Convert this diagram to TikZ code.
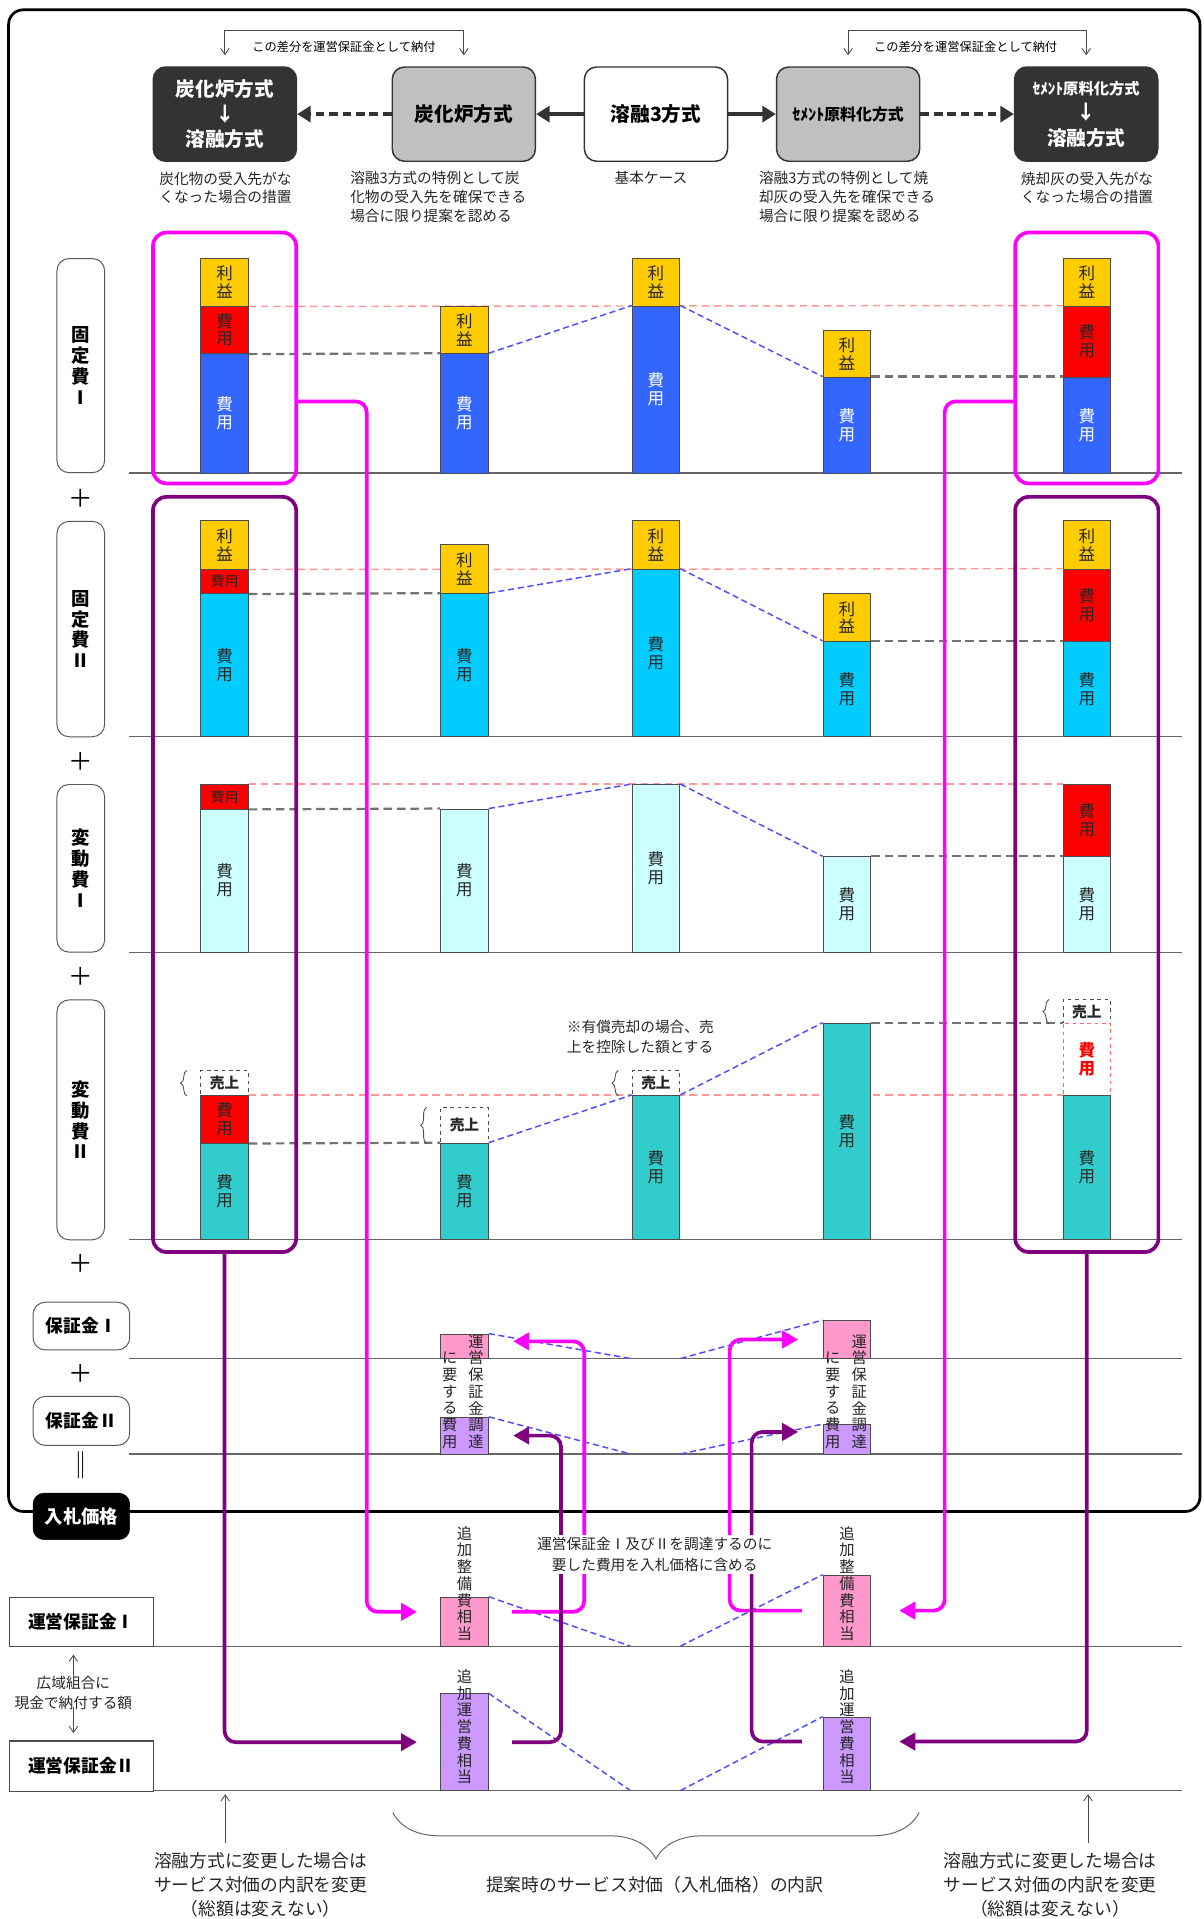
\documentclass[tikz,border=0pt]{standalone}
\usepackage{fontspec}
\setmainfont{Noto Sans CJK JP}
\usetikzlibrary{arrows.meta,decorations.pathreplacing}
\pgfdeclarelayer{back}
\pgfsetlayers{back,main}
\definecolor{cYel}{HTML}{FFCC00}
\definecolor{cRed}{HTML}{FF0000}
\definecolor{cBlue}{HTML}{3366FF}
\definecolor{cCyan}{HTML}{00CCFF}
\definecolor{cLCyan}{HTML}{CCFFFF}
\definecolor{cTeal}{HTML}{33CCCC}
\definecolor{cPink}{HTML}{FF99CC}
\definecolor{cLav}{HTML}{CC99FF}
\definecolor{cMag}{HTML}{FF00FF}
\definecolor{cPur}{HTML}{800080}
\definecolor{cDark}{HTML}{333333}
\definecolor{cGrayBox}{HTML}{C0C0C0}
\definecolor{cPinkLine}{HTML}{FF9999}
\definecolor{cBlueLine}{HTML}{4D4DFF}
\newcommand\fs[2]{\fontsize{#1}{#2}\selectfont}
\newcommand\seg[7][]{\node[segbox,fill=#6,minimum height={#5-#4},#1] (#2) at (#3,{(#4+#5)/2}) {#7};}
\begin{document}
\begin{tikzpicture}[x=1pt,y=-1pt,
  segbox/.style={draw=black!70, line width=0.7pt, inner sep=0pt, minimum width=39pt, align=center, text=black!85, font=\fs{13.5}{14.5}},
  topbox/.style={draw=black!80, line width=1.2pt, rounded corners=10pt, minimum width=117pt, minimum height=77pt, inner sep=0pt, align=center},
  captxt/.style={font=\fs{12}{15.5}, inner sep=0pt, align=left, anchor=north west, text=black!85},
  rowlab/.style={draw=black!65, line width=0.8pt, rounded corners=10pt, minimum width=39pt, inner sep=0pt, align=center, font=\bfseries\fs{15}{17}},
  plussign/.style={font=\fs{20}{20}, inner sep=0pt},
  baseln/.style={draw=black!60, line width=0.9pt},
  pdash/.style={draw=cPinkLine, line width=1.2pt, dash pattern=on 6pt off 4pt},
  gdash/.style={draw=black!55, line width=1.8pt, dash pattern=on 7pt off 4pt},
  bdash/.style={draw=cBlueLine, line width=1.2pt, dash pattern=on 5pt off 3pt},
  magframe/.style={draw=cMag, line width=3pt, rounded corners=11pt, inner sep=0pt, minimum width=117pt},
  purframe/.style={draw=cPur, line width=3pt, rounded corners=11pt, inner sep=0pt, minimum width=117pt},
  magA/.style={draw=cMag, line width=3pt, rounded corners=9pt, -{Triangle[length=13pt,width=14pt]}},
  purA/.style={draw=cPur, line width=3pt, rounded corners=9pt, -{Triangle[length=13pt,width=14pt]}},
  topA/.style={draw=cDark, line width=3pt, -{Triangle[length=11pt,width=13pt]}},
  thinA/.style={draw=black!70, line width=0.7pt, -{Straight Barb[length=5pt,width=7pt]}},
  brkt/.style={draw=black!70, line width=0.7pt, {Straight Barb[length=5pt,width=7pt]}-{Straight Barb[length=5pt,width=7pt]}},
  vtext/.style={inner sep=0pt, align=center, font=\fs{12.5}{13.7}, text=black!85},
  brc/.style={draw=black!70, line width=0.7pt, decorate, decoration={brace, amplitude=5pt}},
  bigbrace/.style={draw=black!60, line width=0.8pt, decorate, decoration={brace, amplitude=38pt}},
  uribox/.style={dashed, draw=black!70, font=\bfseries\fs{12}{12}}
]
\useasboundingbox (0,0) rectangle (983,1568);

% ---------------- top boxes ----------------
\node[topbox, fill=cDark, text=white, font=\bfseries\fs{16}{20.7}] (bA) at (183.75,93.25) {炭化炉方式\\↓\\溶融方式};
\node[topbox, fill=cGrayBox, font=\bfseries\fs{16}{18}] (bB) at (379,93.25) {炭化炉方式};
\node[topbox, fill=white, font=\bfseries\fs{16}{18}] (bC) at (536,93.25) {溶融3方式};
\node[topbox, fill=cGrayBox, font=\bfseries\fs{13}{16}] (bD) at (693,93.25) {ｾﾒﾝﾄ原料化方式};
\node[topbox, fill=cDark, text=white, font=\bfseries\fs{16}{20.7}] (bE) at (887.5,93.25) {{\fs{12.5}{20.7}ｾﾒﾝﾄ原料化方式}\\↓\\溶融方式};

\draw[topA] (bC.west) -- (bB.east);
\draw[topA, dash pattern=on 7pt off 4pt] (bB.west) -- (bA.east);
\draw[topA] (bC.east) -- (bD.west);
\draw[topA, dash pattern=on 7pt off 4pt] (bD.east) -- (bE.west);

\draw[brkt] ([yshift=9pt]bA.north) -- ++(0,-20) -| ([yshift=9pt]bB.north);
\draw[brkt] ([yshift=9pt]bD.north) -- ++(0,-20) -| ([yshift=9pt]bE.north);
\node[font=\fs{10}{12}, inner sep=0pt] (nt1) at (281,38) {この差分を運営保証金として納付};
\node[font=\fs{10}{12}, inner sep=0pt] (nt2) at (789,38) {この差分を運営保証金として納付};

\node[captxt] (capA) at (130,140) {炭化物の受入先がな\\くなった場合の措置};
\node[captxt] (capB) at (286,140) {溶融3方式の特例として炭\\化物の受入先を確保できる\\場合に限り提案を認める};
\node[captxt] (capC) at (502,140) {基本ケース};
\node[captxt] (capD) at (620,140) {溶融3方式の特例として焼\\却灰の受入先を確保できる\\場合に限り提案を認める};
\node[captxt] (capE) at (834,140) {焼却灰の受入先がな\\くなった場合の措置};

% ---------------- row labels ----------------
\node[rowlab, minimum height=175pt] (L1) at (66,298.75) {固\\定\\費\\Ⅰ};
\node[rowlab, minimum height=176pt] (L2) at (66,514) {固\\定\\費\\Ⅱ};
\node[rowlab, minimum height=137pt] (L3) at (66,709.5) {変\\動\\費\\Ⅰ};
\node[rowlab, minimum height=196pt] (L4) at (66,915) {変\\動\\費\\Ⅱ};
\node[plussign] (p1) at (66,407) {＋};
\node[plussign] (p2) at (66,622) {＋};
\node[plussign] (p3) at (66,797.5) {＋};
\node[plussign] (p4) at (66,1032) {＋};
\node[rowlab, minimum width=79pt, minimum height=39pt, font=\bfseries\fs{14.5}{16}] (h1) at (66.5,1083.5) {保証金Ⅰ};
\node[plussign] (p5) at (66,1122) {＋};
\node[rowlab, minimum width=79pt, minimum height=40pt, font=\bfseries\fs{14.5}{16}] (h2) at (66.5,1161) {保証金Ⅱ};
\node[font=\fs{22}{22}, inner sep=0pt] (eq) at (66,1197) {‖};

% ---------------- bars ----------------
% row 1
\seg{r1c1a}{183.5}{211}{250}{cYel}{利\\益}
\seg{r1c1b}{183.5}{250}{289}{cRed}{費\\用}
\seg[text=white]{r1c1c}{183.5}{289}{386.5}{cBlue}{費\\用}
\seg{r1c2a}{379.5}{250}{289}{cYel}{利\\益}
\seg[text=white]{r1c2b}{379.5}{289}{386.5}{cBlue}{費\\用}
\seg{r1c3a}{536}{211}{250}{cYel}{利\\益}
\seg[text=white]{r1c3b}{536}{250}{386.5}{cBlue}{費\\用}
\seg{r1c4a}{692}{270}{308}{cYel}{利\\益}
\seg[text=white]{r1c4b}{692}{308}{386.5}{cBlue}{費\\用}
\seg{r1c5a}{888}{211}{250}{cYel}{利\\益}
\seg{r1c5b}{888}{250}{308}{cRed}{費\\用}
\seg[text=white]{r1c5c}{888}{308}{386.5}{cBlue}{費\\用}
% row 2
\seg{r2c1a}{183.5}{425.5}{465}{cYel}{利\\益}
\seg[font=\fs{11.5}{11.5}]{r2c1b}{183.5}{465}{485}{cRed}{費用}
\seg{r2c1c}{183.5}{485}{602}{cCyan}{費\\用}
\seg{r2c2a}{379.5}{445}{485}{cYel}{利\\益}
\seg{r2c2b}{379.5}{485}{602}{cCyan}{費\\用}
\seg{r2c3a}{536}{425.5}{465}{cYel}{利\\益}
\seg{r2c3b}{536}{465}{602}{cCyan}{費\\用}
\seg{r2c4a}{692}{485}{524}{cYel}{利\\益}
\seg{r2c4b}{692}{524}{602}{cCyan}{費\\用}
\seg{r2c5a}{888}{425.5}{465}{cYel}{利\\益}
\seg{r2c5b}{888}{465}{524}{cRed}{費\\用}
\seg{r2c5c}{888}{524}{602}{cCyan}{費\\用}
% row 3
\seg[font=\fs{11.5}{11.5}]{r3c1a}{183.5}{641}{661}{cRed}{費用}
\seg{r3c1b}{183.5}{661}{778}{cLCyan}{費\\用}
\seg{r3c2a}{379.5}{661}{778}{cLCyan}{費\\用}
\seg{r3c3a}{536}{641}{778}{cLCyan}{費\\用}
\seg{r3c4a}{692}{700}{778}{cLCyan}{費\\用}
\seg{r3c5a}{888}{641}{700}{cRed}{費\\用}
\seg{r3c5b}{888}{700}{778}{cLCyan}{費\\用}
% row 4
\seg[uribox]{u4c1}{183.5}{875}{895}{white}{売上}
\seg{r4c1a}{183.5}{895}{934}{cRed}{費\\用}
\seg{r4c1b}{183.5}{934}{1012.5}{cTeal}{費\\用}
\seg[uribox]{u4c2}{379.5}{905}{934}{white}{売上}
\seg{r4c2b}{379.5}{934}{1012.5}{cTeal}{費\\用}
\seg[uribox]{u4c3}{536}{875}{895}{white}{売上}
\seg{r4c3b}{536}{895}{1012.5}{cTeal}{費\\用}
\seg{r4c4a}{692}{836}{1012.5}{cTeal}{費\\用}
\seg[uribox]{u4c5}{888}{817}{836}{white}{売上}
\seg[dashed, draw=red!60, text=red, font=\bfseries\fs{13.5}{14.5}]{r4c5b}{888}{836}{895}{white}{費\\用}
\seg{r4c5c}{888}{895}{1012.5}{cTeal}{費\\用}
\draw[brc] ([xshift=-11pt]u4c1.south west) -- ([xshift=-11pt]u4c1.north west);
\draw[brc] ([xshift=-11pt]u4c2.south west) -- ([xshift=-11pt]u4c2.north west);
\draw[brc] ([xshift=-11pt]u4c3.south west) -- ([xshift=-11pt]u4c3.north west);
\draw[brc] ([xshift=-11pt]u4c5.south west) -- ([xshift=-11pt]u4c5.north west);
\node[captxt, font=\fs{12}{16.5}] (note4) at (463,833) {※有償売却の場合、売\\上を控除した額とする};

% guarantee cost boxes
\seg{g1a}{379.5}{1090}{1110}{cPink}{}
\seg{g2a}{379.5}{1158}{1188}{cLav}{}
\seg{g1b}{692}{1079}{1110}{cPink}{}
\seg{g2b}{692}{1164}{1188}{cLav}{}
\seg{u1a}{379.5}{1305}{1345}{cPink}{}
\seg{u2a}{379.5}{1384}{1463}{cLav}{}
\seg{u1b}{692}{1287}{1345}{cPink}{}
\seg{u2b}{692}{1403}{1463}{cLav}{}
\node[vtext, anchor=south] (gt1a) at (389,1184) {運\\営\\保\\証\\金\\調\\達};
\node[vtext, anchor=south] (gt2a) at (367.5,1184) {に\\要\\す\\る\\費\\用};
\node[vtext, anchor=south] (gt1b) at (702,1184) {運\\営\\保\\証\\金\\調\\達};
\node[vtext, anchor=south] (gt2b) at (680.5,1184) {に\\要\\す\\る\\費\\用};
\node[vtext, anchor=south] (ut1a) at (379.5,1341) {追\\加\\整\\備\\費\\相\\当};
\node[vtext, anchor=south] (ut1b) at (692,1341) {追\\加\\整\\備\\費\\相\\当};
\node[vtext, anchor=south] (ut2a) at (379.5,1458) {追\\加\\運\\営\\費\\相\\当};
\node[vtext, anchor=south] (ut2b) at (692,1458) {追\\加\\運\\営\\費\\相\\当};

% ---------------- bottom left ----------------
\node[draw=black, fill=black, text=white, rounded corners=9pt, minimum width=79pt, minimum height=38pt, inner sep=0pt, font=\bfseries\fs{15}{16}] (bid) at (66.5,1239) {入札価格};
\node[draw=black!70, line width=0.9pt, fill=white, minimum width=118pt, minimum height=40pt, inner sep=0pt, font=\bfseries\fs{14.5}{16}] (ub1) at (66.5,1325.5) {運営保証金Ⅰ};
\node[draw=black!70, line width=0.9pt, fill=white, minimum width=118pt, minimum height=41pt, inner sep=0pt, font=\bfseries\fs{14.5}{16}] (ub2) at (66.5,1443) {運営保証金Ⅱ};
\node[font=\fs{12}{16.5}, align=center, inner sep=0pt, text=black!85] (cash) at (60,1383.5) {広域組合に\\現金で納付する額};
\draw[thinA] ([yshift=-3pt]cash.north) -- ([yshift=-6pt]cash.north |- ub1.south);
\draw[thinA] ([yshift=3pt]cash.south) -- ([yshift=6pt]cash.south |- ub2.north);

% bottom notes
\node[font=\fs{14.5}{19.5}, align=center, inner sep=0pt, text=black!85] (bt1) at (213,1540) {溶融方式に変更した場合は\\サービス対価の内訳を変更\\（総額は変えない）};
\node[font=\fs{14.5}{19.5}, align=center, inner sep=0pt, text=black!85] (bt2) at (858,1540) {溶融方式に変更した場合は\\サービス対価の内訳を変更\\（総額は変えない）};
\node[font=\fs{14.5}{19.5}, inner sep=0pt, text=black!85] (bt3) at (535,1540) {提案時のサービス対価（入札価格）の内訳};
\coordinate (ar1) at (184,1466);
\coordinate (ar2) at (889,1466);
\draw[thinA] (ar1 |- bt1.north) ++(0,-8) -- (ar1);
\draw[thinA] (ar2 |- bt2.north) ++(0,-8) -- (ar2);
\coordinate (brR) at (751,1481);
\coordinate (brL) at (321,1481);
\draw[bigbrace] (brR) -- (brL);

% ---------------- background layer ----------------
\begin{pgfonlayer}{back}
\fill[white] (0,0) rectangle (983,1568);
\draw[line width=2.2pt, rounded corners=12pt] (7,8) rectangle (980.5,1235);
\foreach \yy in {386.5,602,778,1012.5,1110,1188,1345,1463}
  \draw[baseln] (105,\yy) -- (966,\yy);
% row 1
\draw[pdash] (r1c1a.south east) -- (r1c5b.north west);
\draw[gdash] (r1c1b.south east) -- (r1c2b.north west);
\draw[gdash] (r1c4b.north east) -- (r1c5c.north west);
\draw[bdash] (r1c2b.north east) -- (r1c3b.north west);
\draw[bdash] (r1c3b.north east) -- (r1c4b.north west);
% row 2
\draw[pdash] (r2c1a.south east) -- (r2c5b.north west);
\draw[gdash] (r2c1b.south east) -- (r2c2b.north west);
\draw[gdash] (r2c4b.north east) -- (r2c5c.north west);
\draw[bdash] (r2c2b.north east) -- (r2c3b.north west);
\draw[bdash] (r2c3b.north east) -- (r2c4b.north west);
% row 3
\draw[pdash] (r3c1a.north east) -- (r3c5a.north west);
\draw[gdash] (r3c1a.south east) -- (r3c2a.north west);
\draw[gdash] (r3c4a.north east) -- (r3c5b.north west);
\draw[bdash] (r3c2a.north east) -- (r3c3a.north west);
\draw[bdash] (r3c3a.north east) -- (r3c4a.north west);
% row 4
\draw[pdash] (r4c1a.north east) -- (r4c5c.north west);
\draw[gdash] (r4c1a.south east) -- (r4c2b.north west);
\draw[gdash] (r4c4a.north east) -- (r4c5b.north west);
\draw[bdash] (r4c2b.north east) -- (r4c3b.north west);
\draw[bdash] (r4c3b.north east) -- (r4c4a.north west);
% lower V-shaped dashes
\coordinate (v1a) at (515,1110); \coordinate (v1b) at (556,1110);
\coordinate (v2a) at (515,1188); \coordinate (v2b) at (556,1188);
\coordinate (v3a) at (515,1345); \coordinate (v3b) at (556,1345);
\coordinate (v4a) at (515,1463); \coordinate (v4b) at (556,1463);
\draw[bdash] (g1a.north east) -- (v1a); \draw[bdash] (v1b) -- (g1b.north west);
\draw[bdash] (g2a.north east) -- (v2a); \draw[bdash] (v2b) -- (g2b.north west);
\draw[bdash] (u1a.north east) -- (v3a); \draw[bdash] (v3b) -- (u1b.north west);
\draw[bdash] (u2a.north east) -- (v4a); \draw[bdash] (v4b) -- (u2b.north west);
\end{pgfonlayer}

% ---------------- frames and connectors ----------------
\node[magframe, minimum height=205pt] (pinkL) at (183.5,292.5) {};
\node[magframe, minimum height=205pt] (pinkR) at (888,292.5) {};
\node[purframe, minimum height=617pt] (purL) at (183.5,714.5) {};
\node[purframe, minimum height=617pt] (purR) at (888,714.5) {};

\draw[magA] ([yshift=-35.5pt]pinkL.east) -| ([xshift=-60pt,yshift=8pt]u1a.west) -- ([xshift=-19pt,yshift=8pt]u1a.west);
\draw[magA] ([yshift=-35.5pt]pinkR.west) -| ([xshift=60pt]u1b.east) -- ([xshift=23pt]u1b.east);
\draw[purA] (purL.south) |- ([xshift=-19pt]u2a.west);
\draw[purA] (purR.south) |- ([xshift=23pt,yshift=10pt]u2b.east);

\draw[magA] ([xshift=19pt,yshift=8pt]u1a.east) -| ([xshift=78pt,yshift=4pt]g1a.east) -- ([xshift=20pt,yshift=4pt]g1a.east);
\draw[purA] ([xshift=19pt]u2a.east) -| ([xshift=59pt]g2a.east) -- ([xshift=20pt]g2a.east);
\draw[magA] ([xshift=-17pt]u1b.west) -| ([xshift=-76pt]g1b.west) -- ([xshift=-20pt]g1b.west);
\draw[purA] ([xshift=-17pt,yshift=10pt]u2b.west) -| ([xshift=-58pt,yshift=6pt]g2b.west) -- ([xshift=-20pt,yshift=6pt]g2b.west);

\node[fill=white, inner sep=2pt, align=center, font=\fs{12}{17}, text=black!85] (mid) at (535,1270) {運営保証金Ⅰ及びⅡを調達するのに\\要した費用を入札価格に含める};
\end{tikzpicture}
\end{document}
